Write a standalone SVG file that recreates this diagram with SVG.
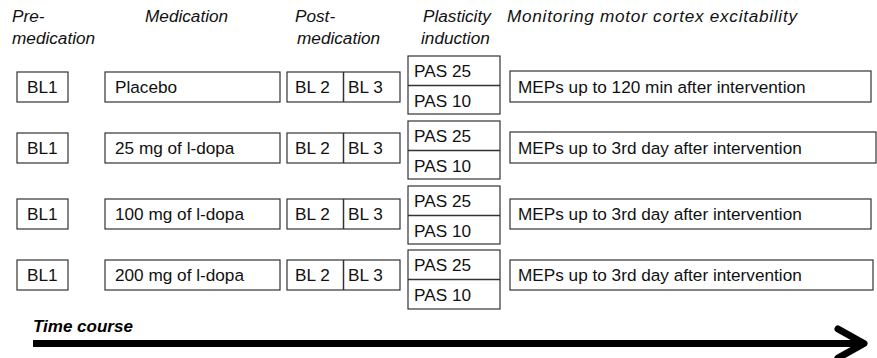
<svg xmlns="http://www.w3.org/2000/svg" width="877" height="358" viewBox="0 0 877 358">
<style>
.hd{font-family:"Liberation Sans",Arial,sans-serif;font-size:17.2px;font-style:italic;fill:#111}
.bx{fill:#fff;stroke:#333;stroke-width:1.2}
.tx{font-family:"Liberation Sans",Arial,sans-serif;font-size:17.2px;fill:#111}
.dv{stroke:#333;stroke-width:1.5}
</style>
<rect width="877" height="358" fill="#fff"/>
<g id="headers">
<text class="hd" x="12" y="22">Pre-</text>
<text class="hd" x="12" y="44">medication</text>
<text class="hd" x="145" y="22">Medication</text>
<text class="hd" x="295" y="22">Post-</text>
<text class="hd" x="297" y="44">medication</text>
<text class="hd" x="423" y="22">Plasticity</text>
<text class="hd" x="421" y="44">induction</text>
<text class="hd" x="507" y="22" textLength="290" lengthAdjust="spacing">Monitoring motor cortex excitability</text>
</g>
<!-- Row 1 -->
<g id="r1-bl1"><rect class="bx" x="17" y="72" width="51" height="30"/><text class="tx" x="27" y="93">BL1</text></g>
<g id="r1-med"><rect class="bx" x="105" y="72" width="175" height="30"/><text class="tx" x="115" y="93">Placebo</text></g>
<g id="r1-bl23"><rect class="bx" x="287" y="72" width="113" height="30"/><line class="dv" x1="343.5" y1="72" x2="343.5" y2="102"/><text class="tx" x="295" y="93">BL 2</text><text class="tx" x="348" y="93">BL 3</text></g>
<g id="r1-pas"><rect class="bx" x="408" y="56" width="92" height="58"/><line class="dv" x1="408" y1="85.5" x2="500" y2="85.5"/><text class="tx" x="414" y="77">PAS 25</text><text class="tx" x="414" y="107">PAS 10</text></g>
<g id="r1-mep"><rect class="bx" x="510" y="71" width="361" height="31"/><text class="tx" x="518" y="93">MEPs up to 120 min after intervention</text></g>
<!-- Row 2 -->
<g id="r2-bl1"><rect class="bx" x="17" y="133" width="51" height="30"/><text class="tx" x="27" y="154">BL1</text></g>
<g id="r2-med"><rect class="bx" x="105" y="133" width="175" height="30"/><text class="tx" x="115" y="154">25 mg of l-dopa</text></g>
<g id="r2-bl23"><rect class="bx" x="287" y="133" width="113" height="30"/><line class="dv" x1="343.5" y1="133" x2="343.5" y2="163"/><text class="tx" x="295" y="154">BL 2</text><text class="tx" x="348" y="154">BL 3</text></g>
<g id="r2-pas"><rect class="bx" x="408" y="121" width="92" height="58"/><line class="dv" x1="408" y1="150.5" x2="500" y2="150.5"/><text class="tx" x="414" y="142">PAS 25</text><text class="tx" x="414" y="172">PAS 10</text></g>
<g id="r2-mep"><rect class="bx" x="510" y="132" width="366" height="31"/><text class="tx" x="518" y="154">MEPs up to 3rd day after intervention</text></g>
<!-- Row 3 -->
<g id="r3-bl1"><rect class="bx" x="17" y="199" width="51" height="30"/><text class="tx" x="27" y="220">BL1</text></g>
<g id="r3-med"><rect class="bx" x="105" y="199" width="175" height="30"/><text class="tx" x="115" y="220">100 mg of l-dopa</text></g>
<g id="r3-bl23"><rect class="bx" x="287" y="199" width="113" height="30"/><line class="dv" x1="343.5" y1="199" x2="343.5" y2="229"/><text class="tx" x="295" y="220">BL 2</text><text class="tx" x="348" y="220">BL 3</text></g>
<g id="r3-pas"><rect class="bx" x="408" y="186" width="92" height="58"/><line class="dv" x1="408" y1="215.5" x2="500" y2="215.5"/><text class="tx" x="414" y="207">PAS 25</text><text class="tx" x="414" y="237">PAS 10</text></g>
<g id="r3-mep"><rect class="bx" x="510" y="199" width="361" height="30"/><text class="tx" x="518" y="220">MEPs up to 3rd day after intervention</text></g>
<!-- Row 4 -->
<g id="r4-bl1"><rect class="bx" x="17" y="260" width="51" height="30"/><text class="tx" x="27" y="281">BL1</text></g>
<g id="r4-med"><rect class="bx" x="105" y="260" width="175" height="30"/><text class="tx" x="115" y="281">200 mg of l-dopa</text></g>
<g id="r4-bl23"><rect class="bx" x="287" y="260" width="113" height="30"/><line class="dv" x1="343.5" y1="260" x2="343.5" y2="290"/><text class="tx" x="295" y="281">BL 2</text><text class="tx" x="348" y="281">BL 3</text></g>
<g id="r4-pas"><rect class="bx" x="408" y="250" width="92" height="59"/><line class="dv" x1="408" y1="279.5" x2="500" y2="279.5"/><text class="tx" x="414" y="271">PAS 25</text><text class="tx" x="414" y="301">PAS 10</text></g>
<g id="r4-mep"><rect class="bx" x="510" y="260" width="363" height="30"/><text class="tx" x="518" y="281">MEPs up to 3rd day after intervention</text></g>
<g id="timecourse">
<text x="33" y="332" font-family="'Liberation Sans',Arial,sans-serif" font-size="17" font-weight="bold" font-style="italic" fill="#000">Time course</text>
</g>
<g id="connectors">
<line x1="33" y1="343.5" x2="862" y2="343.5" stroke="#000" stroke-width="7"/>
<polyline points="838,329 864,343.5 838,358" fill="none" stroke="#000" stroke-width="7" stroke-linecap="round" stroke-linejoin="round"/>
</g>
</svg>
